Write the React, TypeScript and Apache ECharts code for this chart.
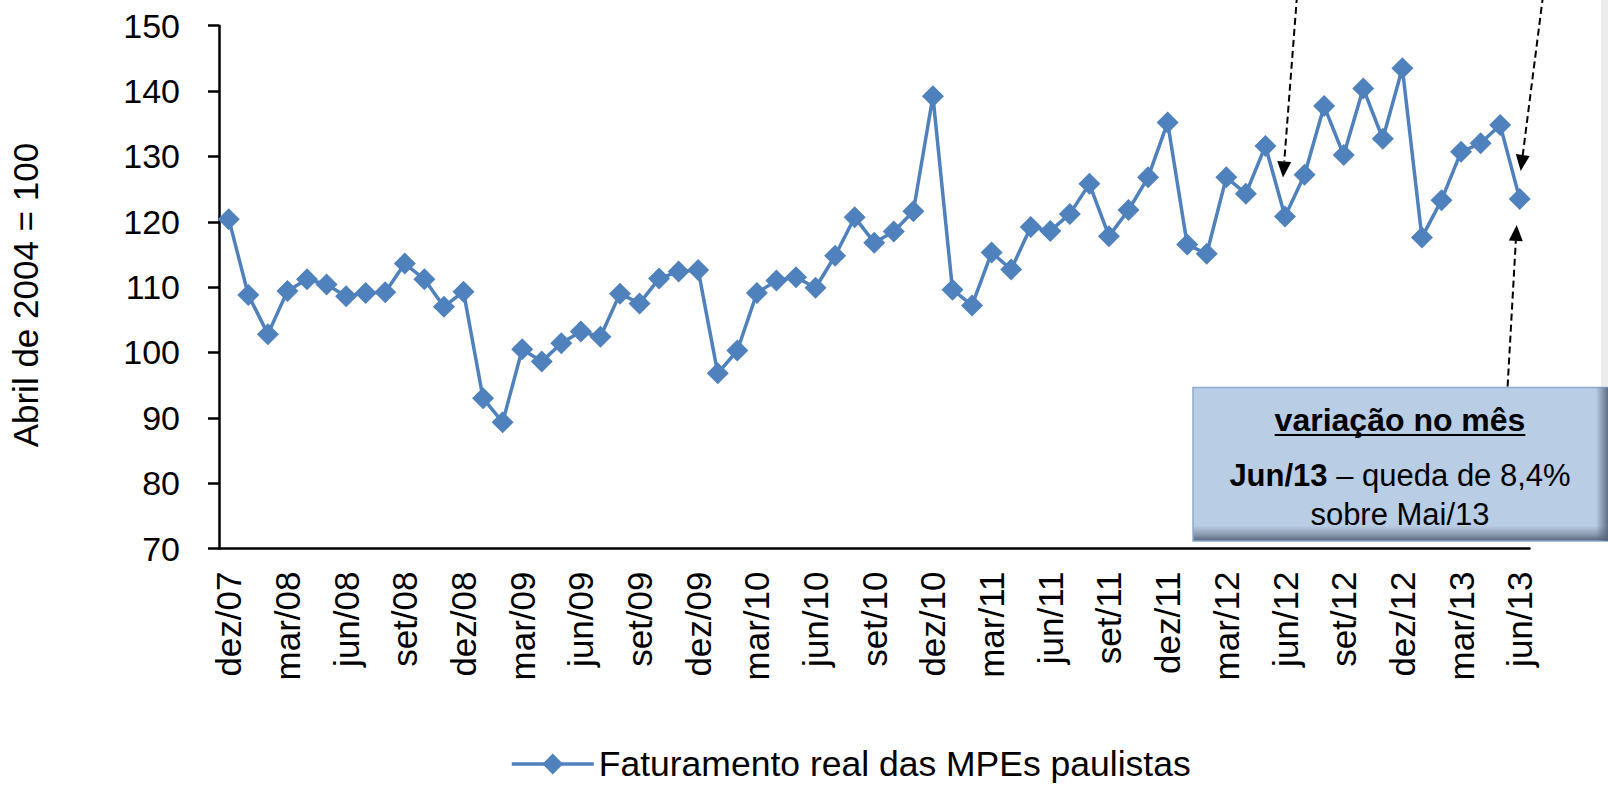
import React, { useEffect, useRef } from "react";
import * as echarts from "echarts";

const categories = [
  "dez/07",
  "jan/08", "fev/08", "mar/08", "abr/08", "mai/08", "jun/08", "jul/08", "ago/08", "set/08", "out/08", "nov/08", "dez/08",
  "jan/09", "fev/09", "mar/09", "abr/09", "mai/09", "jun/09", "jul/09", "ago/09", "set/09", "out/09", "nov/09", "dez/09",
  "jan/10", "fev/10", "mar/10", "abr/10", "mai/10", "jun/10", "jul/10", "ago/10", "set/10", "out/10", "nov/10", "dez/10",
  "jan/11", "fev/11", "mar/11", "abr/11", "mai/11", "jun/11", "jul/11", "ago/11", "set/11", "out/11", "nov/11", "dez/11",
  "jan/12", "fev/12", "mar/12", "abr/12", "mai/12", "jun/12", "jul/12", "ago/12", "set/12", "out/12", "nov/12", "dez/12",
  "jan/13", "fev/13", "mar/13", "abr/13", "mai/13", "jun/13",
];

const faturamento = [
  120.4, 108.8, 102.8, 109.4, 111.2, 110.4, 108.6, 109.1, 109.2, 113.6, 111.2, 107.0, 109.3,
  93.0, 89.3, 100.5, 98.6, 101.4, 103.2, 102.4, 109.0, 107.5, 111.3, 112.4, 112.6,
  96.8, 100.3, 109.1, 111.0, 111.5, 109.9, 114.8, 120.7, 116.8, 118.5, 121.6, 139.2,
  109.6, 107.2, 115.3, 112.7, 119.2, 118.6, 121.2, 125.8, 117.8, 121.8, 126.8, 135.2,
  116.5, 115.1, 126.8, 124.3, 131.6, 120.8, 127.2, 137.7, 130.2, 140.4, 132.7, 143.5,
  117.6, 123.3, 130.7, 132.0, 134.8, 123.5,
];

const seriesName = "Faturamento real das MPEs paulistas";
const yAxisName = "Abril de 2004 = 100";
const boxTitle = "variação no mês";
const boxLine2Bold = "Jun/13";
const boxLine2Rest = " – queda de 8,4%";
const boxLine3 = "sobre Mai/13";

const FONT = "'Liberation Sans', Arial, sans-serif";
const BLUE = "#4f81bd";

function arrow(x1: number, y1: number, x2: number, y2: number) {
  const dx = x2 - x1;
  const dy = y2 - y1;
  const L = Math.hypot(dx, dy);
  const ux = dx / L;
  const uy = dy / L;
  const headLen = 16;
  const headW = 7;
  const bx = x2 - ux * headLen;
  const by = y2 - uy * headLen;
  const px = -uy;
  const py = ux;
  return [
    {
      type: "line",
      silent: true,
      shape: { x1, y1, x2: bx, y2: by },
      style: { stroke: "#000", lineWidth: 2, lineDash: [7, 4] },
      z: 10,
    },
    {
      type: "polygon",
      silent: true,
      shape: {
        points: [
          [x2, y2],
          [bx + px * headW, by + py * headW],
          [bx - px * headW, by - py * headW],
        ],
      },
      style: { fill: "#000" },
      z: 10,
    },
  ];
}

function measure(text: string, font: string) {
  const c = document.createElement("canvas").getContext("2d");
  if (!c) return 0;
  c.font = font;
  return c.measureText(text).width;
}

export default function App() {
  const ref = useRef<HTMLDivElement>(null);

  useEffect(() => {
    if (!ref.current) return;
    const chart = echarts.init(ref.current, undefined, { renderer: "svg" });

    const option: any = {
      animation: false,
      backgroundColor: "#fff",
      grid: { left: 215.5, right: 78.5, top: 25.7, bottom: 238.5 },
      legend: {
        left: 510,
        top: 746,
        padding: 0,
        itemWidth: 82,
        itemHeight: 26,
        lineStyle: { width: 3.5, color: BLUE },
        textStyle: { fontSize: 35.5, color: "#000", fontFamily: FONT },
        data: [seriesName],
      },
      xAxis: {
        type: "category",
        data: categories,
        boundaryGap: true,
        axisLine: { lineStyle: { color: "#000", width: 2.5 } },
        axisTick: { interval: 2, length: 10, lineStyle: { color: "#000", width: 2.5 } },
        axisLabel: {
          interval: 2,
          rotate: 90,
          margin: 23,
          fontSize: 35,
          color: "#000",
          fontFamily: FONT,
        },
        splitLine: { show: false },
      },
      yAxis: {
        type: "value",
        min: 70,
        max: 150,
        interval: 10,
        name: yAxisName,
        nameLocation: "middle",
        nameRotate: 90,
        nameGap: 176,
        nameTextStyle: { fontSize: 35, color: "#000", fontFamily: FONT, padding: [0, 16, 0, 0] },
        axisLine: { show: true, lineStyle: { color: "#000", width: 2.5 } },
        axisTick: { show: true, length: 11, lineStyle: { color: "#000", width: 2.5 } },
        axisLabel: { margin: 39, fontSize: 34, color: "#000", fontFamily: FONT },
        splitLine: { show: false },
      },
      series: [
        {
          type: "line",
          name: seriesName,
          data: faturamento,
          symbol: "diamond",
          symbolSize: 22,
          showAllSymbol: true,
          lineStyle: { width: 3.5, color: BLUE },
          itemStyle: { color: BLUE },
        },
      ],
    };
    chart.setOption(option);

    const pJun12 = chart.convertToPixel({ xAxisIndex: 0, yAxisIndex: 0 }, ["jun/12", faturamento[54]]) as number[];
    const pJun13 = chart.convertToPixel({ xAxisIndex: 0, yAxisIndex: 0 }, ["jun/13", faturamento[66]]) as number[];

    const boxX = 1193;
    const boxY = 387.5;
    const boxW = 420;
    const boxH = 153.5;
    const cx = 1400;

    const titleFont = `bold 32px ${FONT}`;
    const titleW = measure(boxTitle, titleFont);

    const graphic: any[] = [
      {
        type: "rect",
        silent: true,
        shape: { x: 1601, y: 0, width: 7, height: boxY },
        style: { fill: "#ececec" },
        z: 1,
      },
      {
        type: "rect",
        silent: true,
        shape: { x: boxX, y: boxY, width: boxW, height: boxH },
        style: {
          fill: {
            type: "linear",
            x: 0,
            y: 0,
            x2: 0,
            y2: 1,
            colorStops: [
              { offset: 0, color: "#b9cde5" },
              { offset: 0.9, color: "#b9cde5" },
              { offset: 0.96, color: "#8898ad" },
              { offset: 1, color: "#55647a" },
            ],
          },
          stroke: "#8eaad0",
          lineWidth: 1.5,
        },
        z: 5,
      },
      {
        type: "rect",
        silent: true,
        shape: { x: 1596, y: boxY, width: 12, height: boxH },
        style: {
          fill: {
            type: "linear",
            x: 0,
            y: 0,
            x2: 1,
            y2: 0,
            colorStops: [
              { offset: 0, color: "rgba(85,100,122,0)" },
              { offset: 1, color: "rgba(85,100,122,0.9)" },
            ],
          },
        },
        z: 6,
      },
      {
        type: "text",
        silent: true,
        x: cx,
        y: 420,
        style: {
          text: boxTitle,
          font: titleFont,
          fill: "#000",
          align: "center",
          verticalAlign: "middle",
          textAlign: "center",
          textVerticalAlign: "middle",
        },
        z: 7,
      },
      {
        type: "line",
        silent: true,
        shape: { x1: cx - titleW / 2, y1: 435, x2: cx + titleW / 2, y2: 435 },
        style: { stroke: "#000", lineWidth: 2 },
        z: 7,
      },
      {
        type: "text",
        silent: true,
        x: cx,
        y: 475,
        style: {
          text: `{b|${boxLine2Bold}}{n|${boxLine2Rest}}`,
          rich: {
            b: { fontWeight: "bold", fontSize: 31, fontFamily: FONT, fill: "#000" },
            n: { fontSize: 31, fontFamily: FONT, fill: "#000" },
          },
          fontSize: 31,
          fontFamily: FONT,
          fill: "#000",
          align: "center",
          verticalAlign: "middle",
          textAlign: "center",
          textVerticalAlign: "middle",
        },
        z: 7,
      },
      {
        type: "text",
        silent: true,
        x: cx,
        y: 514,
        style: {
          text: boxLine3,
          font: `31px ${FONT}`,
          fill: "#000",
          align: "center",
          verticalAlign: "middle",
          textAlign: "center",
          textVerticalAlign: "middle",
        },
        z: 7,
      },
      ...arrow(1297, -4, pJun12[0] - 2, pJun12[1] - 39),
      ...arrow(1543, -4, pJun13[0] + 1, pJun13[1] - 28),
      ...arrow(1507.6, boxY - 1, pJun13[0] - 3, pJun13[1] + 26),
    ];

    chart.setOption({ graphic });

    return () => {
      chart.dispose();
    };
  }, []);

  return (
    <div
      ref={ref}
      style={{ position: "fixed", left: 0, top: 0, width: 1608, height: 787, background: "#fff" }}
    />
  );
}
